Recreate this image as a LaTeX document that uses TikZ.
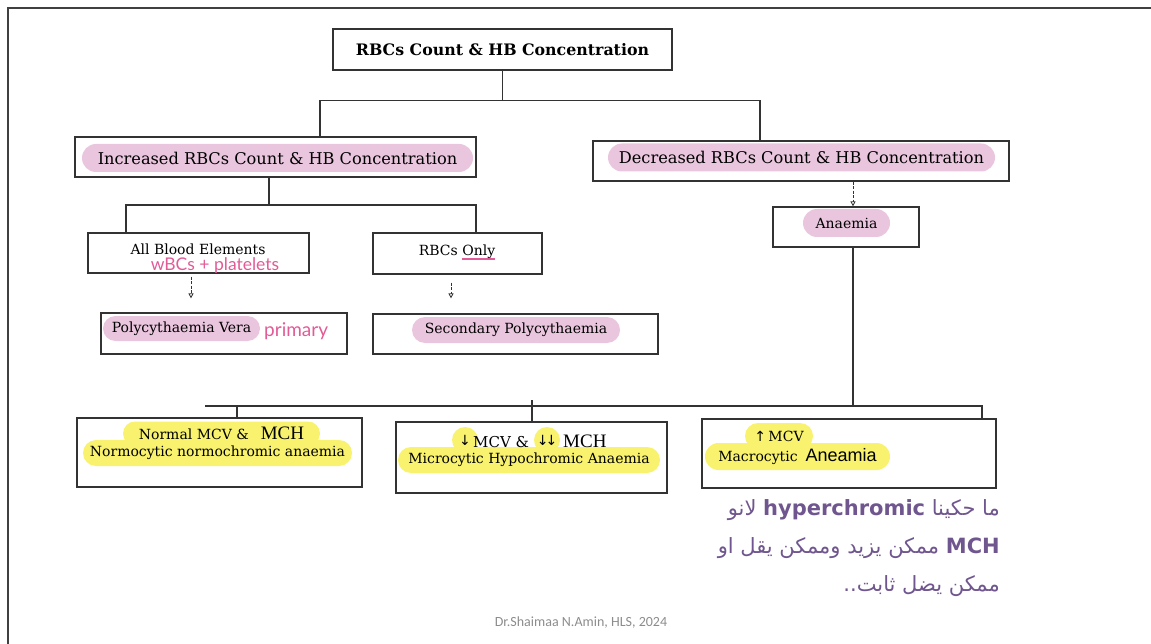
\documentclass[tikz,border=0pt]{standalone}
\usepackage{fontspec}
\usepackage{xcolor}
\usepackage{tikz}
\setmainfont{DejaVu Serif}
\newfontfamily\arabicfont[Script=Arabic]{DejaVu Sans}
\newfontfamily\mchfont{Liberation Serif}
\newfontfamily\sansfont{Liberation Sans}
\newfontfamily\arrowfont{DejaVu Sans}
\newfontfamily\handfont{Lato}
\newfontfamily\footfont{Carlito}
\TeXXeTstate=1
\usetikzlibrary{positioning, arrows.meta, calc}
\definecolor{pinkhl}{RGB}{234,198,222}
\definecolor{yellowhl}{RGB}{248,242,110}
\definecolor{handpink}{RGB}{226,90,150}
\definecolor{notepurple}{RGB}{112,86,142}
\definecolor{boxline}{gray}{0.2}
% pink pen underline
\newcommand{\pinkul}[1]{\setbox0\hbox{#1}\rlap{\color{handpink}\rule[-4pt]{\wd0}{1.6pt}}\box0}
\newcommand{\setfs}[1]{\fontsize{#1}{#1}\selectfont}

\begin{document}
\begin{tikzpicture}[
        x=1pt, y=-1pt,
        box/.style={draw=boxline, line width=1.2pt, inner sep=0pt},
        pinkpill/.style={fill=pinkhl, rounded corners=13pt, minimum height=26pt, inner sep=0pt, font=\setfs{14}},
        yellowpill/.style={fill=yellowhl, rounded corners=12.5pt, minimum height=25pt, inner sep=0pt, font=\setfs{14}},
        yellowdot/.style={circle, fill=yellowhl, minimum size=26pt, inner sep=0pt, font=\arrowfont\setfs{14}},
        label/.style={inner sep=0pt, font=\setfs{14}},
        hand/.style={inner sep=0pt, text=handpink, font=\handfont\setfs{17.5}},
        note/.style={inner sep=0pt, text=notepurple, font=\arabicfont\setfs{21}},
        link/.style={draw=boxline, line width=1.1pt},
        arrow/.style={draw=boxline, line width=0.8pt, dash pattern=on 3pt off 1.5pt, -{Triangle[open, length=5pt, width=5pt]}}
    ]
    \useasboundingbox (0,0) rectangle (1151,644);

    % ===== frame =====
    \draw[line width=1.6pt, black!75] (8,644) -- (8,8) -- (1151,8);

    % ===== boxes =====
    \node (countbox) [box, minimum width=339pt, minimum height=41pt, font=\bfseries\setfs{15.8}] at (502.5,49.5) {RBCs Count \& HB Concentration};
    \node (incbox) [box, minimum width=401pt, minimum height=40pt] at (275.5,157) {};
    \node (decbox) [box, minimum width=416pt, minimum height=40pt] at (801,161) {};
    \node (allbox) [box, minimum width=221pt, minimum height=40pt] at (198.5,253) {};
    \node (rbcbox) [box, minimum width=169pt, minimum height=41pt] at (457.5,253.5) {};
    \node (verabox) [box, minimum width=246pt, minimum height=41pt] at (224,333.5) {};
    \node (secbox) [box, minimum width=285pt, minimum height=40pt] at (515.5,334) {};
    \node (anaemiabox) [box, minimum width=146pt, minimum height=40pt] at (846,227) {};
    \node (normbox) [box, minimum width=285pt, minimum height=69pt] at (219.5,452.5) {};
    \node (microbox) [box, minimum width=271pt, minimum height=71pt] at (531.5,457.5) {};
    \node (macrobox) [box, minimum width=294pt, minimum height=69pt] at (849,453.5) {};

    % ===== highlighted texts =====
    \node (inctxt) [pinkpill, minimum width=391pt, minimum height=28pt, rounded corners=14pt, font=\setfs{16.2}] at (277.5,158) {Increased RBCs Count \& HB Concentration};
    \node (dectxt) [pinkpill, minimum width=387pt, minimum height=28pt, rounded corners=14pt, font=\setfs{16.2}] at (801.5,157.5) {Decreased RBCs Count \& HB Concentration};
    \node (alltxt) [label, anchor=base] at (198,255) {All Blood Elements};
    \node (alltxtnote) [hand] at (215,266) {wBCs + platelets};
    \node (rbctxt) [label, anchor=base] at (457,256) {RBCs \pinkul{Only}};
    \node (veratxt) [pinkpill, minimum width=157pt, minimum height=25pt, rounded corners=12.5pt] at (181.5,328.5) {Polycythaemia Vera};
    \node (veranote) [hand, anchor=west, font=\handfont\setfs{19}] at (264,331) {primary};
    \node (sectxt) [pinkpill, minimum width=208pt] at (516,330) {Secondary Polycythaemia};
    \node (anaemiatxt) [pinkpill, minimum width=87pt, minimum height=28pt, rounded corners=14pt] at (846.5,223) {Anaemia};

    \node (normA) [yellowpill, minimum width=197pt, minimum height=24pt, rounded corners=12pt] at (221.5,433.5) {Normal MCV \&\hspace{12pt}{\mchfont\setfs{19}MCH}};
    \node (normB) [yellowpill, minimum width=269pt, minimum height=26pt, rounded corners=13pt] at (217.5,453) {Normocytic normochromic anaemia};

    \node (mcvdown) [yellowdot] at (465,440) {↓};
    \node (mchdown) [yellowdot] at (547,440) {↓\kern-3pt↓};
    \node (microB) [yellowpill, minimum width=262pt, minimum height=26pt, rounded corners=13pt] at (529,460) {Microcytic Hypochromic Anaemia};
    \node (mcvtxt) [label, anchor=base west, font=\setfs{15}] at (473,447) {MCV \&};
    \node (mchtxt) [label, anchor=base west, font=\mchfont\setfs{19}] at (563,447) {MCH};

    \node (macroA) [yellowpill, minimum width=68pt, minimum height=26pt, rounded corners=13pt] at (779,436) {{\arrowfont↑}\,MCV};
    \node (macroB) [yellowpill, minimum width=185pt, minimum height=27pt, rounded corners=13.5pt] at (797.5,456.5) {Macrocytic\hspace{8pt}{\sansfont\setfs{18}Aneamia}};

    % ===== connectors =====
    \draw[link] (countbox.south) -- ++(0,30) coordinate (topsplit);
    \draw[link] (320,0 |- incbox.north) |- (topsplit) -| (760,0 |- decbox.north);
    \coordinate (incsplit) at (269,205);
    \draw[link] (incbox.south -| incsplit) -- (incsplit);
    \draw[link] (126,0 |- allbox.north) |- (incsplit) -| (476,0 |- rbcbox.north);
    \draw[arrow, shorten <=3pt, shorten >=14pt] (191,0 |- allbox.south) -- (191,0 |- verabox.north);
    \draw[arrow, shorten <=8pt, shorten >=15pt] (451,0 |- rbcbox.south) -- (451,0 |- secbox.north);
    \draw[arrow] (853,0 |- decbox.south) -- (853,0 |- anaemiabox.north);

    \draw[link] (853,0 |- anaemiabox.south) -- (853,406) coordinate (botsplit);
    \coordinate (botleft) at (205,406);
    \draw[link] (botleft) -| (982,0 |- macrobox.north);
    \draw[link] (237,406) -- (237,0 |- normbox.north);
    \draw[link] (532,400) -- (532,0 |- microbox.north);

    % ===== note =====
    \node (noteA) [note, anchor=base east] at (1000,515) {\beginR ما حكينا \beginL\textbf{hyperchromic}\endL{} لانو\endR};
    \node (noteB) [note, anchor=base east] at (1000,553) {\beginR\beginL\textbf{MCH}\endL{} ممكن يزيد وممكن يقل او\endR};
    \node (noteC) [note, anchor=base east] at (1000,591) {\beginR ممكن يضل ثابت..\endR};

    \node (credit) [inner sep=0pt, text=black!45, font=\footfont\setfs{14}] at (581,623) {Dr.Shaimaa N.Amin, HLS, 2024};
\end{tikzpicture}
\end{document}
